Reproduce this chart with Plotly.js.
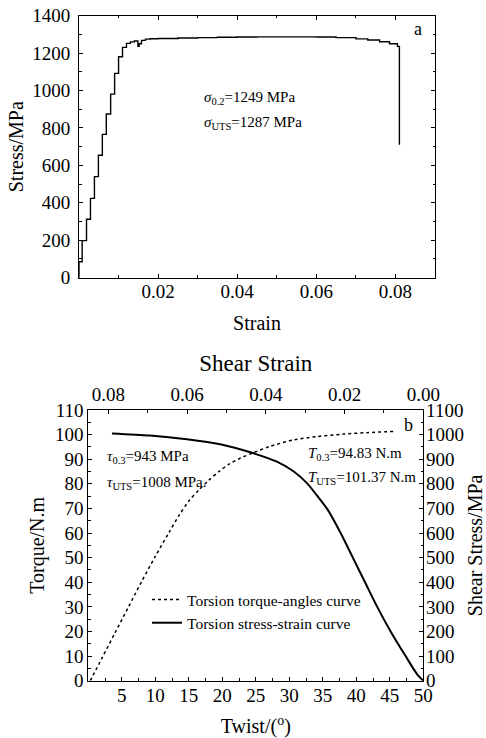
<!DOCTYPE html>
<html>
<head>
<meta charset="utf-8">
<script src="https://cdn.plot.ly/plotly-3.0.1.min.js"></script>
<style>
html,body{margin:0;padding:0;background:#fff;}
#chart{width:486px;height:738px;}
</style>
</head>
<body>
<div id="chart"></div>
<script>
const tensileStrain = [0, 0, 0.0008, 0.0019, 0.0029, 0.0039, 0.0049, 0.0059, 0.0069, 0.0080, 0.0090, 0.0100, 0.0110, 0.0120, 0.0130, 0.0140, 0.0149, 0.0152, 0.0158, 0.0168, 0.0180, 0.0200, 0.0250, 0.0300, 0.0350, 0.0400, 0.0450, 0.0500, 0.0550, 0.0600, 0.0650, 0.0700, 0.0730, 0.0760, 0.0785, 0.0805, 0.0810, 0.0810];
const tensileStress = [0, 85, 198, 312, 424, 540, 654, 766, 875, 981, 1092, 1181, 1231, 1252, 1260, 1265, 1236, 1250, 1268, 1275, 1277, 1278, 1281, 1283, 1285, 1286, 1287, 1287, 1287, 1286, 1283, 1276, 1270, 1261, 1250, 1236, 1230, 710];

// ---- Panel b: torsion ----
const twistAngle = [0.3, 2, 4, 6, 8, 10, 12, 13.5, 15, 16.5, 18, 19.5, 21, 22.6, 24.6, 27.1, 30.6, 34.1, 38.1, 41.6, 45.6];
const torque = [0, 9, 19.5, 30, 40.5, 50.5, 60, 67, 73, 77.5, 81.5, 85, 88, 90.3, 92.6, 95.2, 97.8, 99.2, 100.2, 100.8, 101.3];

const shearStrain = [0.0791, 0.0694, 0.0601, 0.0516, 0.0431, 0.0372, 0.0329, 0.0295, 0.0270, 0.0243, 0.0210, 0.0179, 0.0148, 0.0117, 0.0083, 0.0045, 0.0015, 0];
const shearStress = [1005, 996, 981, 961, 924, 890, 850, 802, 752, 695, 600, 500, 400, 300, 200, 100, 25, 0];

const strainTicks = [0.02, 0.04, 0.06, 0.08];
const twistTicks = [5, 10, 15, 20, 25, 30, 35, 40, 45, 50];

const FONT = "'Liberation Serif', 'DejaVu Serif', serif";
const W = 486, H = 738;
const px = (a, b) => [a / W, b / W];
const py = (top, bottom) => [(H - bottom) / H, (H - top) / H];

const traces = [
  {x: tensileStrain, y: tensileStress, xaxis: 'x', yaxis: 'y', type: 'scatter', mode: 'lines',
   line: {color: '#000', width: 1.4, shape: 'hv'}, showlegend: false, hoverinfo: 'skip'},
  {x: twistAngle, y: torque, xaxis: 'x2', yaxis: 'y2', type: 'scatter', mode: 'lines',
   name: 'Torsion torque-angles curve', line: {color: '#000', width: 1.5, dash: 'dot', shape: 'spline', smoothing: 0.8}},
  {x: shearStrain, y: shearStress, xaxis: 'x3', yaxis: 'y3', type: 'scatter', mode: 'lines',
   name: 'Torsion stress-strain curve', line: {color: '#000', width: 2, shape: 'spline', smoothing: 0.8}}
];

const tickFont = {family: FONT, size: 19, color: '#000'};
const titleFont = {family: FONT, size: 20, color: '#000'};
const common = {showline: true, linecolor: '#000', linewidth: 1, showgrid: false, zeroline: false,
  ticks: 'inside', ticklen: 4, tickwidth: 1, tickcolor: '#000', tickfont: tickFont, fixedrange: true};
const minor = (d) => ({dtick: d, ticks: 'inside', ticklen: 2.5, tickwidth: 1, tickcolor: '#000', showgrid: false});

const layout = {
  width: W, height: H,
  margin: {l: 0, r: 0, t: 0, b: 0},
  paper_bgcolor: '#fff', plot_bgcolor: '#fff',
  font: {family: FONT, color: '#000'},
  showlegend: true,
  legend: {x: 147 / W, y: (H - 583) / H, xanchor: 'left', yanchor: 'top',
    bgcolor: 'rgba(0,0,0,0)', borderwidth: 0, font: {family: FONT, size: 15.5, color: '#000'},
    tracegroupgap: 0},
  xaxis: Object.assign({}, common, {domain: px(79, 435), anchor: 'y', range: [0, 0.09],
    tickmode: 'array', tickvals: strainTicks, ticktext: strainTicks.map(v => v.toFixed(2)),
    minor: minor(0.01), mirror: 'allticks', ticklabelstandoff: -4,
    title: {text: 'Strain', font: titleFont, standoff: 15}}),
  yaxis: Object.assign({}, common, {domain: py(15.7, 277.7), anchor: 'x', range: [0, 1400],
    dtick: 200, tick0: 0, minor: minor(100), mirror: 'allticks', ticklabelstandoff: 4,
    title: {text: 'Stress/MPa', font: titleFont, standoff: 3}}),
  xaxis2: Object.assign({}, common, {domain: px(88.3, 423.3), anchor: 'y2', range: [0, 50],
    tickmode: 'array', tickvals: twistTicks, minor: minor(2.5), ticklabelstandoff: -3,
    title: {text: 'Twist/(<sup>o</sup>)', font: titleFont, standoff: 20}}),
  yaxis2: Object.assign({}, common, {domain: py(410, 680.7), anchor: 'x2', range: [0, 110],
    dtick: 10, tick0: 0, minor: minor(5), ticklabelstandoff: 0,
    title: {text: 'Torque/N.m', font: titleFont, standoff: 4}}),
  xaxis3: Object.assign({}, common, {overlaying: 'x2', side: 'top', anchor: 'y2', range: [0.0851, 0],
    dtick: 0.02, tick0: 0, tickformat: '.2f', minor: minor(0.01), ticklabelstandoff: 0,
    title: {text: 'Shear Strain', font: {family: FONT, size: 23, color: '#000'}, standoff: 6}}),
  yaxis3: Object.assign({}, common, {overlaying: 'y2', side: 'right', anchor: 'x2', range: [0, 1100],
    dtick: 100, tick0: 0, minor: minor(50), ticklabelstandoff: -2,
    title: {text: 'Shear Stress/MPa', font: titleFont, standoff: 13}}),
  annotations: [
    {xref: 'x', yref: 'y', x: 0.0857, y: 1329, text: 'a', showarrow: false, font: {family: FONT, size: 18, color: '#000'}},
    {xref: 'x', yref: 'y', x: 0.0311, y: 960, xanchor: 'left', text: '<i>σ</i><sub>0.2</sub>=1249 MPa', showarrow: false, font: {family: FONT, size: 15, color: '#000'}},
    {xref: 'x', yref: 'y', x: 0.0311, y: 827, xanchor: 'left', text: '<i>σ</i><sub>UTS</sub>=1287 MPa', showarrow: false, font: {family: FONT, size: 15, color: '#000'}},
    {xref: 'x2', yref: 'y2', x: 47.8, y: 103.9, text: 'b', showarrow: false, font: {family: FONT, size: 18, color: '#000'}},
    {xref: 'x2', yref: 'y2', x: 2.56, y: 90.9, xanchor: 'left', text: '<i>τ</i><sub>0.3</sub>=943 MPa', showarrow: false, font: {family: FONT, size: 15, color: '#000'}},
    {xref: 'x2', yref: 'y2', x: 2.56, y: 80.3, xanchor: 'left', text: '<i>τ</i><sub>UTS</sub>=1008 MPa.', showarrow: false, font: {family: FONT, size: 15, color: '#000'}},
    {xref: 'x2', yref: 'y2', x: 32.5, y: 92.1, xanchor: 'left', text: '<i>T</i><sub>0.3</sub>=94.83 N.m', showarrow: false, font: {family: FONT, size: 15, color: '#000'}},
    {xref: 'x2', yref: 'y2', x: 32.5, y: 82.4, xanchor: 'left', text: '<i>T</i><sub>UTS</sub>=101.37 N.m', showarrow: false, font: {family: FONT, size: 15, color: '#000'}}
  ]
};

Plotly.newPlot('chart', traces, layout, {staticPlot: true, displayModeBar: false});
</script>
</body>
</html>
